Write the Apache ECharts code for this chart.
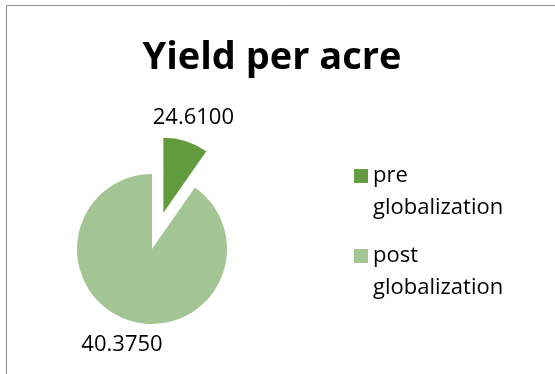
<!DOCTYPE html>
<html lang="en">
<head>
    <meta charset="UTF-8">
    <title>Yield per acre</title>
    <style>
        body { margin: 0; padding: 0; background: #fff; }
        #main { width: 555px; height: 374px; }
    </style>
    <script src="https://cdn.jsdelivr.net/npm/echarts@6/dist/echarts.min.js"></script>
</head>
<body>
<div id="main"></div>
<script>
    var chart = echarts.init(document.getElementById('main'));

    var categories = ['pre globalization', 'post globalization'];
    // values printed on the slices
    var labelValues = [24.61, 40.375];
    // slice shares as drawn in the picture (percent of the circle)
    var sliceShares = [9.7, 90.3];
    var colors = ['#629B3D', '#A3C593'];

    var font = '"Open Sans", "Noto Sans", sans-serif';

    var pieData = categories.map(function (name, i) {
        return {
            name: name,
            value: sliceShares[i],
            selected: i === 0,
            itemStyle: { color: colors[i] }
        };
    });

    var labelData = categories.map(function (name, i) {
        return { name: name, value: sliceShares[i], selected: i === 0 };
    });

    var option = {
        backgroundColor: '#fff',
        animation: false,
        title: {
            text: 'Yield per acre',
            left: 267,
            top: 34,
            textAlign: 'center',
            textStyle: {
                fontFamily: font,
                fontWeight: 'bold',
                fontSize: 38,
                color: '#000'
            }
        },
        legend: {
            orient: 'vertical',
            left: 354,
            top: 128,
            padding: 0,
            itemGap: -16,
            itemWidth: 14,
            itemHeight: 14,
            icon: 'rect',
            data: categories,
            // blank first line keeps the icon level with the first word
            formatter: function (name) {
                return '\n' + name.replace(' ', '\n');
            },
            textStyle: {
                fontFamily: font,
                fontSize: 22,
                lineHeight: 32,
                color: '#000'
            }
        },
        graphic: [
            {
                type: 'polyline',
                shape: { points: [[6.5, 374], [6.5, 5.5], [555, 5.5]] },
                style: { stroke: '#8e8e8e', lineWidth: 1, fill: null },
                silent: true
            }
        ],
        series: [
            {
                type: 'pie',
                center: [152, 249],
                radius: 75,
                startAngle: 90,
                clockwise: true,
                selectedMode: 'single',
                selectedOffset: 38,
                silent: true,
                label: { show: false },
                labelLine: { show: false },
                emphasis: { disabled: true },
                data: pieData
            },
            {
                // transparent ring that only carries the value labels
                type: 'pie',
                center: [152, 249],
                radius: [75, 119],
                startAngle: 90,
                clockwise: true,
                selectedMode: 'single',
                selectedOffset: 38,
                silent: true,
                itemStyle: { color: 'rgba(0,0,0,0)' },
                emphasis: { disabled: true },
                label: {
                    show: true,
                    position: 'inside',
                    fontFamily: font,
                    fontSize: 22,
                    color: '#000',
                    formatter: function (p) {
                        return labelValues[p.dataIndex].toFixed(4);
                    }
                },
                labelLine: { show: false },
                data: labelData
            }
        ]
    };
    chart.setOption(option);
    window.onresize = chart.resize;
</script>
</body>
</html>
